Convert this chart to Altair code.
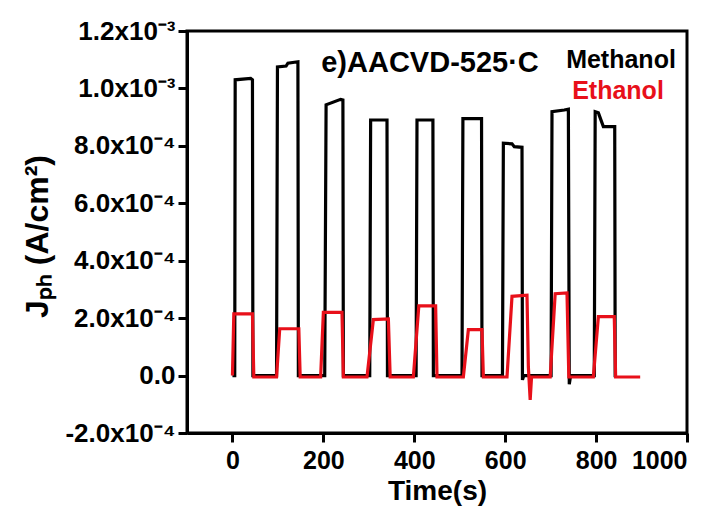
import altair as alt
import pandas as pd

# ---- data ----
meth_t = [0, 5, 6, 40, 44, 45, 97, 99, 118, 122, 144, 145, 203, 206, 238, 243, 244,
          302, 304, 340, 341, 404, 406, 441, 442, 505, 507, 548, 549,
          594, 596, 615, 620, 637, 638, 641, 701, 703, 730, 739, 741, 744,
          796, 798, 805, 816, 841, 842, 845]
meth_j = [0.0, 0.0, 1.03e-3, 1.035e-3, 1.03e-3, 0.0, 0.0, 1.075e-3, 1.078e-3, 1.088e-3, 1.093e-3, 0.0,
          0.0, 0.943e-3, 0.962e-3, 0.96e-3, 0.0,
          0.0, 0.89e-3, 0.89e-3, 0.0, 0.0, 0.89e-3, 0.89e-3, 0.0, 0.0, 0.895e-3, 0.895e-3, 0.0,
          0.0, 0.809e-3, 0.807e-3, 0.797e-3, 0.795e-3, -0.15e-4, 0.0, 0.0, 0.919e-3, 0.925e-3, 0.928e-3, -0.3e-4, 0.0,
          0.0, 0.919e-3, 0.915e-3, 0.867e-3, 0.867e-3, 0.0, 0.0]

eth_t = [0, 3, 44, 47, 97, 104, 146, 149, 194, 200, 241, 244, 296, 310, 343, 347,
         398, 410, 447, 450, 508, 519, 549, 552, 604, 615, 648, 651, 655, 658,
         699, 710, 736, 740, 794, 805, 840, 843, 897]
eth_j = [0.0, 2.15e-4, 2.15e-4, -0.05e-4, -0.05e-4, 1.63e-4, 1.63e-4, -0.05e-4, -0.05e-4, 2.2e-4, 2.2e-4, -0.05e-4,
         -0.05e-4, 1.95e-4, 1.97e-4, -0.05e-4,
         -0.05e-4, 2.43e-4, 2.43e-4, -0.05e-4, -0.05e-4, 1.6e-4, 1.6e-4, -0.05e-4,
         -0.05e-4, 2.76e-4, 2.8e-4, 0.3e-4, -0.85e-4, -0.05e-4,
         -0.05e-4, 2.85e-4, 2.88e-4, -0.05e-4, -0.05e-4, 2.05e-4, 2.05e-4, -0.05e-4, -0.05e-4]

x_ticks = [0, 200, 400, 600, 800, 1000]
y_ticks = [-2e-4, 0.0, 2e-4, 4e-4, 6e-4, 8e-4, 1.0e-3, 1.2e-3]
y_tick_labels = ["-2.0x10\u207b\u2074", "0.0", "2.0x10\u207b\u2074", "4.0x10\u207b\u2074",
                 "6.0x10\u207b\u2074", "8.0x10\u207b\u2074", "1.0x10\u207b\u00b3", "1.2x10\u207b\u00b3"]

series_names = ["Methanol", "Ethanol"]
sample_label = "e)AACVD-525\u00b7C"

# ---- build ----
FONT = "Liberation Sans"
RED = "#e8101a"
meth = pd.DataFrame({"t": meth_t, "j": meth_j})
eth = pd.DataFrame({"t": eth_t, "j": eth_j})

expr = "'" + y_tick_labels[-1] + "'"
for v, lab in reversed(list(zip(y_ticks[:-1], y_tick_labels[:-1]))):
    expr = f"datum.value < {v + 1e-4} ? '{lab}' : " + expr

xenc = alt.X("t:Q", scale=alt.Scale(domain=[-100, 1000], nice=False, zero=False),
             axis=alt.Axis(values=x_ticks, format="d", title="Time(s)", titlePadding=4,
                           labelPadding=6, labelFontSize=25, titleFontSize=28))
yenc = alt.Y("j:Q", scale=alt.Scale(domain=[-2e-4, 1.2e-3], nice=False, zero=False),
             axis=alt.Axis(values=y_ticks, labelExpr=expr, title="J\u209a\u2095 (A/cm\u00b2)",
                           titleX=-150, titleY=205, titleAlign="center", titleBaseline="middle",
                           labelPadding=3, labelFontSize=26, titleFontSize=32))

black = alt.Chart(meth).mark_line(color="black", strokeWidth=3.2).encode(x=xenc, y=yenc)
red = alt.Chart(eth).mark_line(color=RED, strokeWidth=3.2).encode(x="t:Q", y="j:Q")

one = pd.DataFrame({"a": [0]})
t1 = alt.Chart(one).mark_text(text=sample_label, font=FONT, fontSize=29, fontWeight="bold",
                              color="black", align="center", baseline="middle").encode(
    x=alt.value(243), y=alt.value(32))
t2 = alt.Chart(one).mark_text(text=series_names[0], font=FONT, fontSize=25, fontWeight="bold",
                              color="black", align="center", baseline="middle").encode(
    x=alt.value(434), y=alt.value(29))
t3 = alt.Chart(one).mark_text(text=series_names[1], font=FONT, fontSize=25, fontWeight="bold",
                              color=RED, align="center", baseline="middle").encode(
    x=alt.value(431), y=alt.value(60))

chart = alt.layer(black, red, t1, t2, t3).properties(
    width=500, height=402,
    background="white",
    autosize=alt.AutoSizeParams(type="none"),
    padding={"left": 187, "top": 31, "right": 35, "bottom": 77},
).configure_view(stroke="black", strokeWidth=3).configure_axis(
    grid=False, domainColor="black", domainWidth=3, tickColor="black", tickWidth=3, tickSize=9,
    labelFont=FONT, labelFontWeight="bold", labelColor="black",
    titleFont=FONT, titleFontWeight="bold", titleColor="black",
)

chart.save("out.html", embed_options={"renderer": "svg", "actions": False})
